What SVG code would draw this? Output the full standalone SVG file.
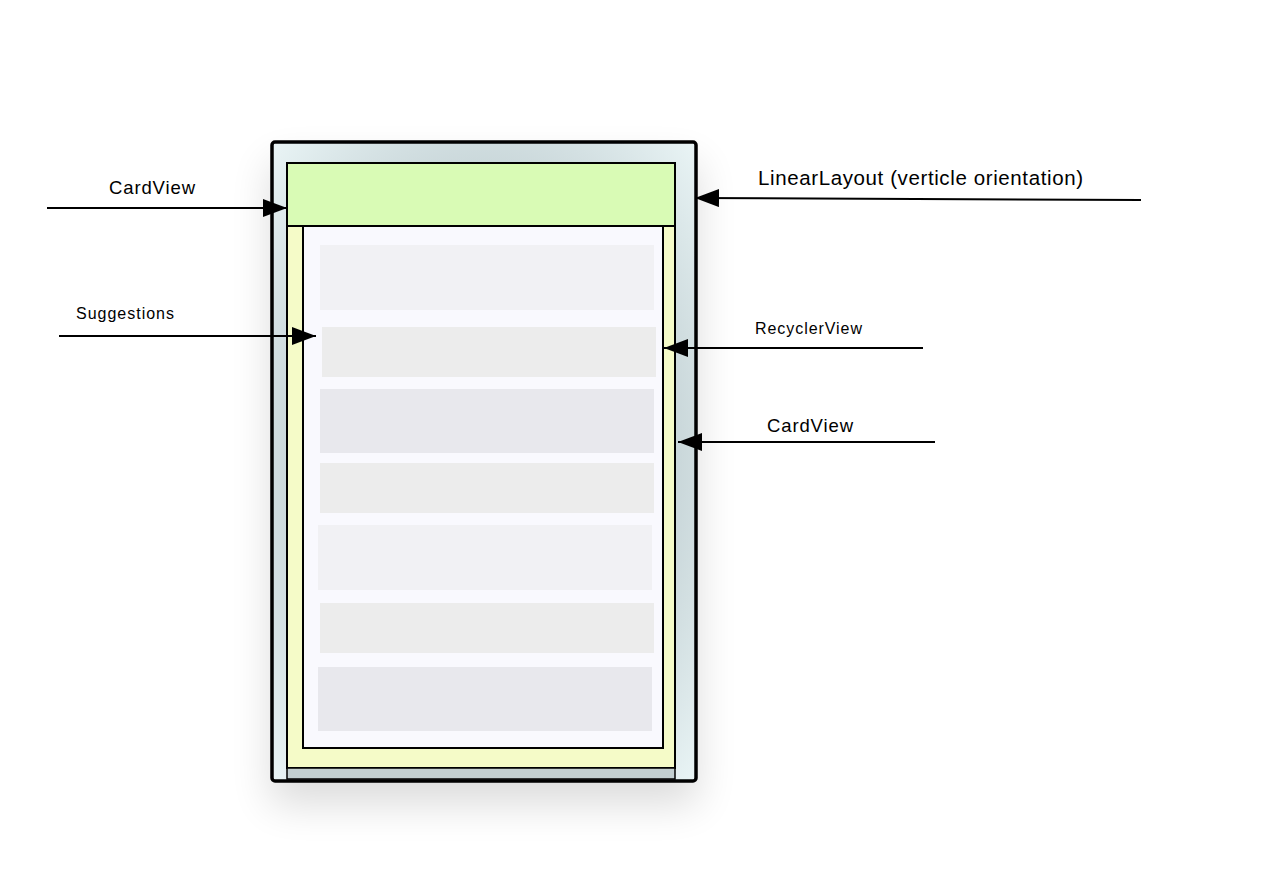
<svg xmlns="http://www.w3.org/2000/svg" width="1280" height="883" viewBox="0 0 1280 883">
<defs>
<style>
.lbl{font-family:"Liberation Sans",Arial,sans-serif;fill:#000}
.conn{stroke:#000;stroke-width:2;fill:none;marker-end:url(#ah)}
.box{stroke:#000;stroke-width:2}
</style>
<marker id="ah" viewBox="0 0 24 18" refX="24" refY="9" markerWidth="24" markerHeight="18" markerUnits="userSpaceOnUse" orient="auto">
<path d="M0,0 L24,9 L0,18 Z" fill="#000"/>
</marker>
<radialGradient id="cardg" cx="0.5" cy="0.5" r="0.7">
<stop offset="0.6" stop-color="#c5d3d6"/>
<stop offset="1" stop-color="#e9f4f5"/>
</radialGradient>
<filter id="sh" x="-20%" y="-20%" width="140%" height="140%">
<feGaussianBlur in="SourceAlpha" stdDeviation="20"/>
<feOffset dy="22"/>
<feComponentTransfer><feFuncA type="linear" slope="0.14"/></feComponentTransfer>
<feMerge><feMergeNode/><feMergeNode in="SourceGraphic"/></feMerge>
</filter>
</defs>
<rect width="1280" height="883" fill="#fff"/>
<g id="cardview-outer">
<rect x="272" y="142" width="424" height="639" rx="3" fill="url(#cardg)" stroke="#000" stroke-width="3.5" filter="url(#sh)"/>
</g>
<g id="linearlayout">
<rect x="287" y="226" width="388" height="542" fill="#f5fbc8" class="box" stroke-width="1.5"/>
<rect x="287" y="768" width="388" height="11" fill="#c3cfd1" stroke="#000" stroke-width="1.5"/>
</g>
<g id="cardview-header">
<rect x="287" y="163" width="388" height="63" fill="#d9fbb5" class="box" stroke-width="1.8"/>
</g>
<g id="recyclerview">
<rect x="303" y="226" width="360" height="522" fill="#f9f9fe" class="box" stroke-width="1.8"/>
</g>
<g id="suggestions">
<rect x="320" y="245" width="334" height="65" fill="#f1f1f4"/>
<rect x="322" y="327" width="334" height="50" fill="#ececec"/>
<rect x="320" y="389" width="334" height="64" fill="#e8e8ed"/>
<rect x="320" y="463" width="334" height="50" fill="#ececec"/>
<rect x="318" y="525" width="334" height="65" fill="#f1f1f4"/>
<rect x="320" y="603" width="334" height="50" fill="#ececec"/>
<rect x="318" y="667" width="334" height="64" fill="#e8e8ed"/>
</g>
<g id="connectors">
<line class="conn" x1="47" y1="208" x2="287" y2="208"/>
<line class="conn" x1="1141" y1="200" x2="695" y2="198"/>
<line class="conn" x1="59" y1="336" x2="316" y2="336"/>
<line class="conn" x1="923" y1="348" x2="664" y2="348"/>
<line class="conn" x1="935" y1="442" x2="678" y2="442"/>
</g>
<g id="labels">
<text class="lbl" x="109" y="194" font-size="18.5" textLength="86" lengthAdjust="spacing">CardView</text>
<text class="lbl" x="758" y="185" font-size="20.5" textLength="325" lengthAdjust="spacing">LinearLayout (verticle orientation)</text>
<text class="lbl" x="76" y="319" font-size="16" textLength="98" lengthAdjust="spacing">Suggestions</text>
<text class="lbl" x="755" y="334" font-size="16" textLength="107" lengthAdjust="spacing">RecyclerView</text>
<text class="lbl" x="767" y="432" font-size="18.5" textLength="86" lengthAdjust="spacing">CardView</text>
</g>
</svg>
